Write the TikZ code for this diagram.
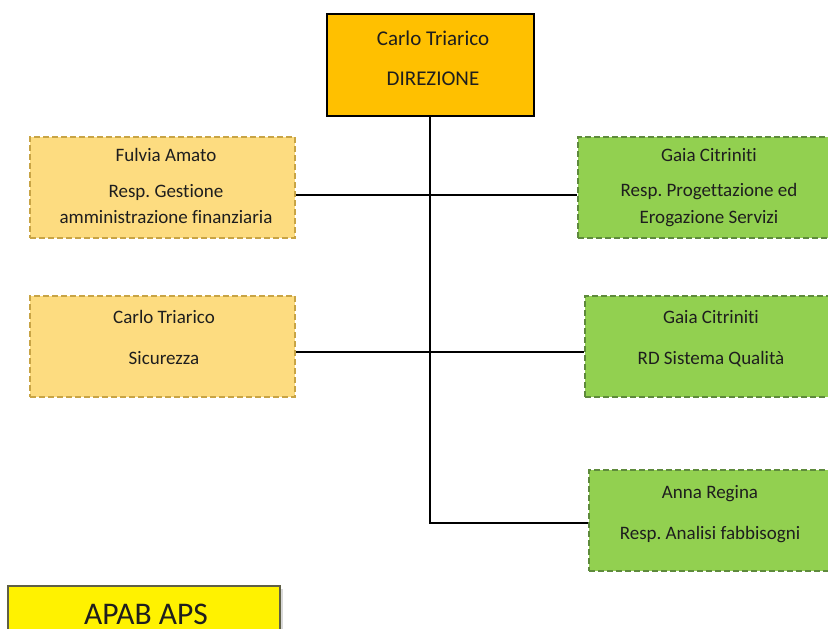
\documentclass[tikz,border=0pt]{standalone}
\usepackage{fontspec}
\setmainfont{Carlito}[Ligatures=NoCommon]
\frenchspacing
\definecolor{dirfill}{HTML}{FFC000}
\definecolor{yelfill}{HTML}{FDDC80}
\definecolor{yeldraw}{HTML}{C8A445}
\definecolor{grnfill}{HTML}{92D050}
\definecolor{grndraw}{HTML}{5E8A3C}
\definecolor{txt}{HTML}{1E1E1E}
\definecolor{apabdraw}{HTML}{5F5F45}
\begin{document}
\begin{tikzpicture}[x=1pt,y=1pt,
  dirbox/.style={draw=black,fill=dirfill,line width=1.5pt,minimum width=207pt,minimum height=102pt,inner sep=0pt},
  yelbox/.style={draw=yeldraw,fill=yelfill,line width=1.4pt,dash pattern=on 6pt off 3pt,minimum width=265pt,minimum height=101pt,inner sep=0pt},
  grnbox/.style={draw=grndraw,fill=grnfill,line width=1.4pt,dash pattern=on 6pt off 3pt,minimum height=101pt,inner sep=0pt},
  lbl/.style={anchor=base,inner sep=0pt,text=txt,font=\fontsize{19}{23}\selectfont},
  dirlbl/.style={anchor=base,inner sep=0pt,text=txt,font=\fontsize{21}{25}\selectfont},
  conn/.style={draw=black,line width=1.5pt}]
\path[use as bounding box,clip] (0,0) rectangle (828,629);
\fill[white] (0,0) rectangle (828,629);
% boxes
\node[dirbox] (dir) at (430.5,564) {};
\node[yelbox] (l1) at (162.5,441.5) {};
\node[grnbox,minimum width=262pt] (r1) at (709,441.5) {};
\node[yelbox] (l2) at (162.5,282.5) {};
\node[grnbox,minimum width=253pt] (r2) at (711.5,282.5) {};
\node[grnbox,minimum width=243pt] (r3) at (710.5,108.5) {};
% connectors
\coordinate (trunk) at (430,106);
\draw[conn] (dir.south -| trunk) -- (trunk) -- (r3.west |- trunk);
\coordinate (h1) at (0,434);
\coordinate (h2) at (0,277);
\draw[conn] (l1.east |- h1) -- (r1.west |- h1);
\draw[conn] (l2.east |- h2) -- (r2.west |- h2);
% texts
\node[dirlbl] (t0a) at (433,583.3) {Carlo Triarico};
\node[dirlbl] (t0b) at (433,543) {DIREZIONE};
\node[lbl] (t1a) at (166,467) {Fulvia Amato};
\node[lbl] (t1b) at (166,431) {Resp. Gestione};
\node[lbl] (t1c) at (166,405) {amministrazione finanziaria};
\node[lbl] (t2a) at (709,467) {Gaia Citriniti};
\node[lbl] (t2b) at (709,432) {Resp. Progettazione ed};
\node[lbl] (t2c) at (709,405) {Erogazione Servizi};
\node[lbl] (t3a) at (164,305) {Carlo Triarico};
\node[lbl] (t3b) at (164,264) {Sicurezza};
\node[lbl] (t4a) at (711,305) {Gaia Citriniti};
\node[lbl] (t4b) at (711,264) {RD Sistema Qualità};
\node[lbl] (t5a) at (710,130) {Anna Regina};
\node[lbl] (t5b) at (710,89) {Resp. Analisi fabbisogni};
% APAB APS
\fill[black,opacity=0.15] (11,-20) rectangle (283,40);
\node[draw=apabdraw,fill=yellow,line width=1.5pt,minimum width=272pt,minimum height=56pt,inner sep=0pt] (apab) at (144,15) {};
\node[anchor=base,inner sep=0pt,text=txt,font=\fontsize{31.5}{36}\selectfont] (apabt) at (146,4) {APAB APS};
\end{tikzpicture}
\end{document}
